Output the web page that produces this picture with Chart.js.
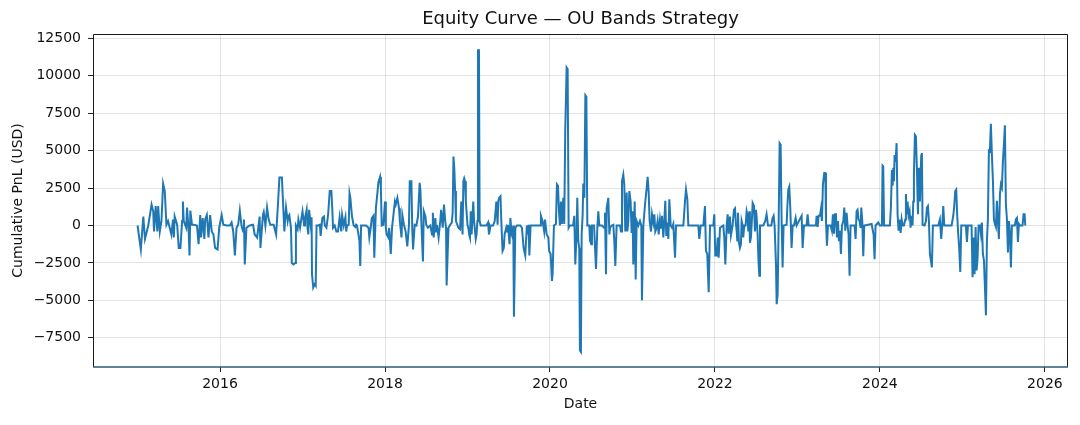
<!DOCTYPE html>
<html>
<head>
<meta charset="utf-8">
<script src="https://cdn.jsdelivr.net/npm/chart.js@4.4.1/dist/chart.umd.min.js"></script>
<style>
  html, body { margin: 0; padding: 0; background: #fff; }
  #wrap { width: 1080px; height: 425px; }
</style>
</head>
<body>
<div id="wrap"><canvas id="chart"></canvas></div>
<script>
// Dates as decimal years
const dates = [
  2015.00, 2015.04, 2015.07, 2015.09, 2015.13, 2015.17, 2015.19, 2015.20, 2015.22, 2015.24,
  2015.25, 2015.27, 2015.29, 2015.31, 2015.33, 2015.35, 2015.37, 2015.39, 2015.41, 2015.43,
  2015.44, 2015.45, 2015.48, 2015.50, 2015.52, 2015.54, 2015.55, 2015.56, 2015.59, 2015.60,
  2015.62, 2015.63, 2015.64, 2015.66, 2015.68, 2015.72, 2015.74, 2015.76, 2015.77, 2015.79,
  2015.81, 2015.82, 2015.84, 2015.86, 2015.88, 2015.90, 2015.92, 2015.94, 2015.97, 2015.99,
  2016.02, 2016.04, 2016.08, 2016.12, 2016.14, 2016.16, 2016.18, 2016.20, 2016.22, 2016.24,
  2016.26, 2016.28, 2016.29, 2016.30, 2016.32, 2016.36, 2016.40, 2016.42, 2016.45, 2016.48,
  2016.49, 2016.52, 2016.53, 2016.55, 2016.57, 2016.59, 2016.61, 2016.65, 2016.68, 2016.70,
  2016.72, 2016.75,
  2016.78, 2016.79, 2016.80, 2016.82, 2016.83, 2016.84, 2016.86, 2016.87, 2016.89, 2016.91,
  2016.92, 2016.94, 2016.95, 2016.97, 2016.99, 2017.00, 2017.02, 2017.03, 2017.05, 2017.06,
  2017.07, 2017.08, 2017.10, 2017.11, 2017.115, 2017.13, 2017.15, 2017.16, 2017.17, 2017.19,
  2017.21, 2017.22, 2017.24, 2017.26, 2017.27, 2017.29, 2017.31, 2017.33, 2017.35, 2017.36,
  2017.37, 2017.39, 2017.41, 2017.43, 2017.45, 2017.47, 2017.48, 2017.50, 2017.52, 2017.53,
  2017.54, 2017.56, 2017.57, 2017.58, 2017.60, 2017.62, 2017.64, 2017.65, 2017.66, 2017.69,
  2017.70, 2017.71, 2017.74, 2017.77, 2017.80, 2017.81, 2017.83, 2017.84, 2017.86, 2017.87,
  2017.89, 2017.91, 2017.92, 2017.94, 2017.95, 2017.96, 2017.98, 2018.00, 2018.01, 2018.02,
  2018.04, 2018.05, 2018.07, 2018.085, 2018.10, 2018.12, 2018.13, 2018.15, 2018.17, 2018.18,
  2018.20, 2018.21, 2018.23, 2018.25, 2018.27, 2018.29, 2018.30, 2018.32, 2018.33, 2018.34,
  2018.36, 2018.38, 2018.40, 2018.42, 2018.43, 2018.44, 2018.46, 2018.47, 2018.49, 2018.50,
  2018.52, 2018.55, 2018.57, 2018.58, 2018.59,
  2018.61, 2018.62, 2018.63, 2018.65, 2018.67, 2018.68, 2018.70, 2018.715, 2018.73, 2018.74,
  2018.747, 2018.77, 2018.79, 2018.81, 2018.82, 2018.83, 2018.84, 2018.85, 2018.86, 2018.88,
  2018.89, 2018.91, 2018.925, 2018.94, 2018.95, 2018.96, 2018.97, 2018.98, 2019.00, 2019.01,
  2019.02, 2019.03, 2019.04, 2019.05, 2019.07, 2019.08, 2019.10, 2019.11, 2019.12, 2019.127,
  2019.139, 2019.147, 2019.16, 2019.19, 2019.23, 2019.25, 2019.26, 2019.28, 2019.31, 2019.33,
  2019.35, 2019.365, 2019.373, 2019.385, 2019.40, 2019.41, 2019.425, 2019.44, 2019.45, 2019.47,
  2019.48, 2019.49, 2019.51, 2019.52, 2019.535, 2019.547, 2019.555, 2019.563, 2019.58, 2019.60,
  2019.64, 2019.66, 2019.67, 2019.68, 2019.70, 2019.72, 2019.73, 2019.74, 2019.75, 2019.765,
  2019.80, 2019.84, 2019.88, 2019.89, 2019.91, 2019.93, 2019.94, 2019.96, 2019.98, 2019.99,
  2020.008, 2020.024, 2020.032, 2020.048, 2020.072, 2020.084, 2020.097, 2020.109, 2020.121, 2020.133,
  2020.145, 2020.161, 2020.173, 2020.185, 2020.202, 2020.214, 2020.226, 2020.24, 2020.26, 2020.28,
  2020.295, 2020.307, 2020.323, 2020.331, 2020.343, 2020.355, 2020.363, 2020.375,
  2020.384, 2020.396, 2020.404, 2020.417, 2020.429, 2020.441, 2020.453, 2020.477, 2020.485, 2020.501,
  2020.509, 2020.534, 2020.558, 2020.574, 2020.586, 2020.598, 2020.631, 2020.655, 2020.667, 2020.679,
  2020.687, 2020.707, 2020.720, 2020.728, 2020.748, 2020.768, 2020.780, 2020.792, 2020.808, 2020.849,
  2020.861, 2020.873, 2020.889, 2020.901, 2020.913, 2020.930, 2020.938, 2020.950, 2020.962, 2020.978,
  2020.990, 2021.002, 2021.010, 2021.027, 2021.039, 2021.051, 2021.071, 2021.091, 2021.107, 2021.115,
  2021.132, 2021.152, 2021.172, 2021.184, 2021.196, 2021.208, 2021.225, 2021.237, 2021.253, 2021.265,
  2021.277, 2021.293, 2021.305, 2021.318, 2021.334, 2021.346, 2021.358, 2021.374, 2021.386, 2021.398,
  2021.410, 2021.423, 2021.435, 2021.447, 2021.463, 2021.479, 2021.495, 2021.516, 2021.528, 2021.617,
  2021.637, 2021.649, 2021.665, 2021.677, 2021.798, 2021.810, 2021.827, 2021.859, 2021.879, 2021.891,
  2021.907, 2021.924, 2021.940, 2021.980, 2021.992, 2022.004, 2022.020, 2022.033, 2022.045, 2022.061,
  2022.101, 2022.113, 2022.126, 2022.142, 2022.154, 2022.166, 2022.182,
  2022.194, 2022.214, 2022.230, 2022.243, 2022.255, 2022.263, 2022.271, 2022.279, 2022.291, 2022.303,
  2022.315, 2022.323, 2022.335, 2022.343, 2022.356, 2022.372, 2022.384, 2022.396, 2022.404, 2022.416,
  2022.424, 2022.436, 2022.449, 2022.457, 2022.473, 2022.485, 2022.497, 2022.505, 2022.517, 2022.529,
  2022.538, 2022.546, 2022.586, 2022.610, 2022.626, 2022.643, 2022.683, 2022.699, 2022.711, 2022.723,
  2022.740, 2022.748, 2022.760, 2022.772, 2022.784, 2022.796, 2022.808, 2022.820, 2022.832, 2022.869,
  2022.877, 2022.889, 2022.901, 2022.913, 2022.929, 2022.942, 2022.958, 2022.978, 2022.990, 2023.051,
  2023.063, 2023.079, 2023.111, 2023.123, 2023.136, 2023.224, 2023.232, 2023.245, 2023.257, 2023.273,
  2023.285, 2023.297, 2023.309, 2023.325, 2023.338, 2023.346, 2023.358, 2023.370, 2023.402, 2023.418,
  2023.430, 2023.443, 2023.455, 2023.467, 2023.479, 2023.491, 2023.503, 2023.515, 2023.527, 2023.540,
  2023.556, 2023.568, 2023.580, 2023.596, 2023.608, 2023.620, 2023.632, 2023.644, 2023.693, 2023.705,
  2023.717, 2023.729, 2023.741, 2023.753, 2023.766, 2023.774, 2023.786, 2023.798, 2023.810, 2023.899,
  2023.911, 2023.923, 2023.935, 2023.947, 2023.980, 2024.000, 2024.024, 2024.032, 2024.040, 2024.050,
  2024.121, 2024.133, 2024.145, 2024.154, 2024.162, 2024.170, 2024.178, 2024.190, 2024.202, 2024.214,
  2024.226, 2024.238, 2024.251, 2024.263, 2024.275, 2024.291, 2024.307, 2024.315, 2024.323, 2024.335,
  2024.347, 2024.360, 2024.372, 2024.384, 2024.396, 2024.404, 2024.412, 2024.424, 2024.436, 2024.448,
  2024.461, 2024.473, 2024.485, 2024.493, 2024.501, 2024.509, 2024.517, 2024.541, 2024.558, 2024.570,
  2024.582, 2024.594, 2024.606, 2024.618, 2024.630, 2024.642, 2024.707, 2024.727, 2024.743, 2024.756,
  2024.768, 2024.780, 2024.869, 2024.889, 2024.901, 2024.913, 2024.925, 2024.937, 2024.949, 2024.962,
  2024.974, 2024.986, 2025.042, 2025.055, 2025.067, 2025.111, 2025.123, 2025.135, 2025.147, 2025.160,
  2025.172, 2025.184, 2025.196, 2025.212, 2025.224, 2025.236, 2025.248, 2025.261, 2025.273, 2025.285,
  2025.297, 2025.309, 2025.321, 2025.333, 2025.345, 2025.358, 2025.370, 2025.382, 2025.394, 2025.406,
  2025.418, 2025.430, 2025.442, 2025.455, 2025.467, 2025.479, 2025.491, 2025.503, 2025.515, 2025.527,
  2025.539, 2025.552, 2025.564, 2025.576, 2025.588, 2025.600, 2025.636, 2025.648, 2025.661, 2025.673,
  2025.685, 2025.697, 2025.729, 2025.741, 2025.754, 2025.762
];

// Cumulative PnL in USD, same order as dates
const pnl = [
  0, -1600, 600, -900, 0, 1400, 950, -400, 1300, -400,
  1300, -400, 300, 2800, 2300, 50, 300, -150, -600, 400,
  -800, 600, 50, -1500, -1500, 300, 1600, 300, -150, 1200,
  -400, -2000, 1000, 50, 50, 0, -1250, 700, -800, 500,
  -900, 400, 700, -800, 700, -400, -600, -1500, -1600, -150,
  700, 50, 0, 0, 200, -400, -2000, -150, 50, 1000,
  0, -400, 400, -2600, -150, 0, 50, -600, -800, 600,
  -1500, 700, 900, 0, 1200, 400, 50, 50, -600, 1200,
  3200, 3200,
  -400, 500, 1200, 300, 600, 700, -150, -2500, -2600, -2500,
  0, -250, 400, -150, 600, 950, 0, 500, 1050, -150,
  -600, 1050, 0, 550, -3250, -4150, -3900, -4000, 0, 0,
  50, -700, 500, 600, 0, -150, 700, 2300, 2300, 1200,
  -150, 0, -400, -400, 550, -400, 700, 0, 550, -400,
  0, 50, 2150, 1850, 600, 0, -100, 50, 0, -1000,
  -2700, 0, 0, 0, -150, -800, 0, 500, 650, -2150,
  1200, 2300, 2900, 3250, 2500, 0, 50, 1600, -150, -600,
  -800, -150, -1900, -150, 600, 1600, 1400, 1850, 1150, 300,
  -800, 700, 50, -400, -1400, 0, 2950, 2950, -150, -1600,
  50, 0, 600, 2850, 2300, 300, -2400, 950, 600, 50,
  -150, 0, -600, 850, -800,
  500, -400, 50, -800, 300, 1050, -150, 1400, 300, -150,
  -4000, -150, 50, 200, 850, 4600, 3800, 2300, 300, 0,
  -150, -250, 1600, -600, 2950, 3150, 2950, 1600, 50, -150,
  -600, -800, 950, -600, 1600, 300, -900, -600, 300, 11700,
  11700, 300, 0, 0, 0, 200, -600, 0, 0, 300,
  1600, 50, 1600, 1850, 1950, 300, -1700, -1500, -600, -150,
  -400, 50, -1250, 500, -600, -800, 0, -6100, -150, 0,
  0, -150, -800, -1500, -2000, 0, -600, 50, -2000, 0,
  0, 0, 0, 650, 300, -400, 400, -600, -800, -1700,
  -1900, -3700, -3200, 0, 100, 2750, 2650, 950, 0, 1600,
  100, 1850, 100, 6350, 10550, 10450, -150, 0, 0, 0,
  650, -2600, -400, 1850, -1050, -1500, -8350, -8450,
  -600, 700, 2800, 1850, 8700, 8600, 0, 0, -1000, -1250,
  0, 0, -2900, -150, 950, 0, 0, -150, 850, -3250,
  1150, 1850, -600, -150, 0, 50, -1050, -2700, 0, 0,
  -400, 2950, 3400, 2700, -400, 2200, -400, 300, 2300, 1600,
  -500, 950, -2600, 1600, -3600, 300, 0, 300, 0, -5000,
  0, 1400, 2500, 3250, 2300, 300, -400, 750, 200, 750,
  -400, -150, 300, -600, 400, -150, 650, -800, 300, 1650,
  -700, 200, -900, 1750, 0, -150, 100, -2150, 0, 0,
  1650, 2400, 1750, 0, 0, -900, 0, 0, 1300, -1700,
  -1900, -4450, 0, 0, 750, -2000, -2000, -800, -2150, -150,
  0, -800, -2600, 0, 750, -550, 600,
  -650, 0, 1050, 1150, 50, -350, -1000, 850, -1150, -1500,
  -1250, 300, 0, -800, 0, 0, 950, 650, -400, 950,
  -1150, -800, 500, 1500, 1300, -400, 1050, 600, -600, -2500,
  -3350, 0, 0, 300, 750, 0, 0, 500, 650, 0,
  -2600, -5250, -4600, 0, 5500, 5400, 400, -2800, 0, 50,
  1200, 2400, 2600, 1200, -1500, 0, 0, 500, 0, 650,
  -1500, 0, 0, 750, 0, 0, 650, -100, 650, 650,
  1100, 300, 2750, 3500, 3500, 300, -1350, 0, 0, -350,
  750, -550, 750, 750, -800, 300, -1050, -350, -1900, 0,
  300, 1200, -350, 850, 0, -600, -3350, 0, 0, -900,
  950, 1050, 400, 300, -150, 1200, 300, -2050, 0, 100,
  -250, -600, -2250, 0, 200, 0, 0, 4000, 3950, 0,
  0, 1200, 3700, 2650, 3850, 2950, 4700, 4250, 5500, 750,
  -350, 400, -500, 400, 0, 0, 400, 2100, 750, 1600,
  650, 950, -150, 650, 0, 1600, 3400, 6050, 5950, 3850,
  750, 3850, 1600, 3400, 4700, 4850, 50, 0, 300, 1200,
  1300, 300, -1900, -2350, -2800, 0, 0, 400, -900, 100,
  1300, 0, 0, 650, 1300, 2300, 2400, 650, -550, -1600,
  -3100, 0, 0, -1100, 0, 0, -3450, -800, -3250, -100,
  -3000, -2150, 0, 0, -550, 200, -1900, -2350, -4100, -6000,
  -1000, 400, 5000, 4950, 6800, 4650, 2950, 400, 100, -100,
  1650, 300, -900, 2100, 2750, 2550, 4300, 5400, 6700, 1400,
  500, -1800, 300, -550, -2800, 0, 0, 400, 500, -1100,
  100, 0, 0, 750, 750, 0
];

const xTicks = [2016, 2018, 2020, 2022, 2024, 2026];
const yTicks = [-7500, -5000, -2500, 0, 2500, 5000, 7500, 10000, 12500];
const titleText = 'Equity Curve \u2014 OU Bands Strategy';

const points = dates.map((d, i) => ({ x: d, y: pnl[i] }));

const font = { family: '"DejaVu Sans", sans-serif', size: 14 };
const textColor = '#111';

// marco de los ejes y titulo centrado sobre el area de trazado
const frame = {
    id: 'frame',
    afterDraw(chart) {
        const { ctx, chartArea: a } = chart;
        ctx.save();
        ctx.lineWidth = 1;
        ctx.strokeStyle = '#1a1a1a';
        ctx.beginPath();
        ctx.moveTo(a.left + 0.5, a.bottom);
        ctx.lineTo(a.left + 0.5, a.top + 0.5);
        ctx.lineTo(a.right - 0.5, a.top + 0.5);
        ctx.lineTo(a.right - 0.5, a.bottom);
        ctx.stroke();
        ctx.strokeStyle = '#2e5876';
        ctx.lineWidth = 1.5;
        ctx.beginPath();
        ctx.moveTo(a.left, a.bottom);
        ctx.lineTo(a.right, a.bottom);
        ctx.stroke();
        ctx.fillStyle = '#111';
        ctx.font = '18px "DejaVu Sans", sans-serif';
        ctx.textAlign = 'center';
        ctx.textBaseline = 'middle';
        ctx.fillText(titleText, (a.left + a.right) / 2, 19);
        ctx.restore();
    }
};

const ctx = document.getElementById('chart').getContext('2d');
const myChart = new Chart(ctx, {
    type: 'line',
    data: {
        datasets: [{
            label: 'Equity',
            data: points,
            borderColor: '#1f77b4',
            borderWidth: 2,
            pointRadius: 0,
            tension: 0,
            fill: false
        }]
    },
    options: {
        responsive: true,
        maintainAspectRatio: false,
        animation: false,
        layout: { padding: { top: 34, right: 12, left: 0, bottom: 0 } },
        plugins: {
            legend: { display: false },
            tooltip: { enabled: false }
        },
        scales: {
            x: {
                type: 'linear',
                min: 2014.46,
                max: 2026.28,
                afterBuildTicks: s => { s.ticks = xTicks.map(v => ({ value: v })); },
                afterFit: s => { s.height = 58; },
                ticks: { callback: v => String(v), font, color: textColor, padding: 4, maxRotation: 0 },
                grid: { color: 'rgba(0,0,0,0.1)', tickColor: '#222', tickLength: 5 },
                border: { display: false },
                title: { display: true, text: 'Date', font, color: textColor, padding: { top: 0, bottom: 12 } }
            },
            y: {
                min: -9450,
                max: 12790,
                afterBuildTicks: s => { s.ticks = yTicks.map(v => ({ value: v })); },
                afterFit: s => { s.width = 93; },
                ticks: {
                    callback: v => (v < 0 ? '\u2212' + Math.abs(v) : String(v)),
                    font, color: textColor, padding: 7
                },
                grid: { color: 'rgba(0,0,0,0.1)', tickColor: '#222', tickLength: 5 },
                border: { display: false },
                title: { display: true, text: 'Cumulative PnL (USD)', font, color: textColor, padding: { top: 10, bottom: 0 } }
            }
        }
    },
    plugins: [frame]
});
</script>
</body>
</html>
